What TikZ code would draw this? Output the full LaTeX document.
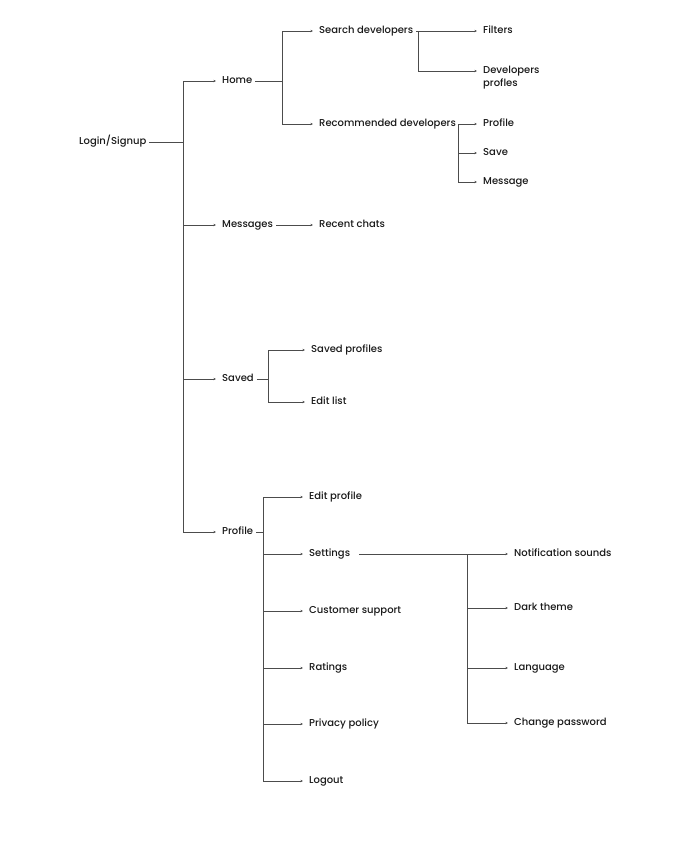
\documentclass[tikz,border=0pt]{standalone}
\usepackage{fontspec}
\setmainfont{Poppins}[UprightFont=* Medium]
\usetikzlibrary{arrows.meta}
\begin{document}
\begin{tikzpicture}[x=1pt,y=-1pt,
  lbl/.style={anchor=mid west, inner xsep=3pt, inner ysep=2pt, font=\fontsize{10}{13}\selectfont, text=black!90},
  conn/.style={draw=black!70, line width=0.6pt},
  arr/.style={conn, -{Stealth[length=2.6pt,width=2.4pt]}, shorten >=3pt}]
\useasboundingbox (0,0) rectangle (700,847);
% nodes
\node[lbl] (login) at (76,142) {Login/Signup};
\node[lbl] (home) at (219,81) {Home};
\node[lbl] (messages) at (219,225) {Messages};
\node[lbl] (saved) at (219,379) {Saved};
\node[lbl] (profile) at (219,532) {Profile};
\node[lbl] (search) at (316,31) {Search developers};
\node[lbl] (recommended) at (316,124) {Recommended developers};
\node[lbl] (filters) at (480,31) {Filters};
\node[lbl, anchor=west, align=left] (devprof) at (480,77.5) {Developers\\profles};
\node[lbl] (profile2) at (480,124) {Profile};
\node[lbl] (save) at (480,153) {Save};
\node[lbl] (message) at (480,182) {Message};
\node[lbl] (recent) at (316,225) {Recent chats};
\node[lbl] (savedprof) at (308,350) {Saved profiles};
\node[lbl] (editlist) at (308,402) {Edit list};
\node[lbl] (editprof) at (306,497) {Edit profile};
\node[lbl] (settings) at (306,554) {Settings};
\node[lbl] (customer) at (306,611) {Customer support};
\node[lbl] (ratings) at (306,668) {Ratings};
\node[lbl] (privacy) at (306,724) {Privacy policy};
\node[lbl] (logout) at (306,781) {Logout};
\node[lbl] (notif) at (511,554) {Notification sounds};
\node[lbl] (dark) at (511,608) {Dark theme};
\node[lbl] (language) at (511,668) {Language};
\node[lbl] (changepw) at (511,723) {Change password};
% junctions
\coordinate (j1) at (183,142);
\coordinate (j2) at (282,81);
\coordinate (j3) at (418,31);
\coordinate (j4) at (458,124);
\coordinate (j5) at (268,379);
\coordinate (j6) at (263,532);
\coordinate (j7) at (467,554);
% connectors
\draw[conn] (login.mid east) -- (j1);
\foreach \t in {home,messages,saved,profile} \draw[arr] (j1) |- (\t.mid west);
\draw[conn] (home.mid east) -- (j2);
\foreach \t in {search,recommended} \draw[arr] (j2) |- (\t.mid west);
\draw[conn] (search.mid east) -- (j3);
\draw[arr] (j3) |- (filters.mid west);
\draw[arr] (j3) |- ([yshift=6.5pt]devprof.west);
\draw[conn] (recommended.mid east) -- (j4);
\foreach \t in {profile2,save,message} \draw[arr] (j4) |- (\t.mid west);
\draw[arr] (messages.mid east) -- (recent.mid west);
\draw[conn] (saved.mid east) -- (j5);
\foreach \t in {savedprof,editlist} \draw[arr] (j5) |- (\t.mid west);
\draw[conn] (profile.mid east) -- (j6);
\foreach \t in {editprof,settings,customer,ratings,privacy,logout} \draw[arr] (j6) |- (\t.mid west);
\draw[conn, shorten <=6pt] (settings.mid east) -- (j7);
\foreach \t in {notif,dark,language,changepw} \draw[arr] (j7) |- (\t.mid west);
\end{tikzpicture}
\end{document}
